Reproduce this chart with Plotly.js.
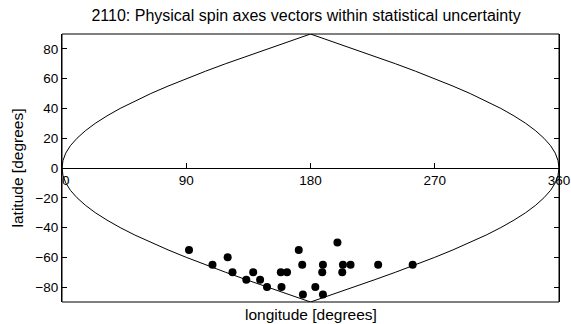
<!DOCTYPE html>
<html>
<head>
<meta charset="utf-8">
<script src="https://cdn.plot.ly/plotly-3.0.1.min.js"></script>
<style>html,body{margin:0;padding:0;background:#fff;}#chart{width:571px;height:324px;}</style>
</head>
<body>
<div id="chart"></div>
<script>
// Spin axis points (longitude, latitude) in degrees
var pointLon = [92, 109, 120, 123.5, 133.5, 138.5, 143.5, 148.5, 158.5, 163, 159, 171.5, 174, 174.5, 183.5, 189, 188.5, 189, 199.5, 203.5, 203, 209, 229, 254];
var pointLat = [-55, -65, -60, -70, -75, -70, -75, -80, -70, -70, -80, -55, -65, -85, -80, -65, -70, -85, -50, -65, -70, -65, -65, -65];

// Sky boundary (sinusoidal outline), read at 5 degree latitude steps
var boundaryLat = [90, 85, 80, 75, 70, 65, 60, 55, 50, 45, 40, 35, 30, 25, 20, 15, 10, 5, 0,
                   -5, -10, -15, -20, -25, -30, -35, -40, -45, -50, -55, -60, -65, -70, -75, -80, -85, -90];
var boundaryLonWest = [180, 164.3, 148.7, 133.4, 118.4, 103.9, 90, 76.8, 64.3, 52.7, 42.1, 32.6, 24.1, 16.9, 10.9, 6.1, 2.7, 0.7, 0,
                       0.7, 2.7, 6.1, 10.9, 16.9, 24.1, 32.6, 42.1, 52.7, 64.3, 76.8, 90, 103.9, 118.4, 133.4, 148.7, 164.3, 180];
var boundaryLonEast = [180, 195.7, 211.3, 226.6, 241.6, 256.1, 270, 283.2, 295.7, 307.3, 317.9, 327.4, 335.9, 343.1, 349.1, 353.9, 357.3, 359.3, 360,
                       359.3, 357.3, 353.9, 349.1, 343.1, 335.9, 327.4, 317.9, 307.3, 295.7, 283.2, 270, 256.1, 241.6, 226.6, 211.3, 195.7, 180];

var xTicks = [0, 90, 180, 270, 360];
var xTickLabels = ['\u00a0\u00a00', '90', '180', '270', '360'];
var yTicks = [-80, -60, -40, -20, 0, 20, 40, 60, 80];
var yTickLabels = ['\u221280', '\u221260', '\u221240', '\u221220', '0', '20', '40', '60', '80'];

var titleText = '2110: Physical spin axes vectors within statistical uncertainty';
var xTitle = 'longitude [degrees]';
var yTitle = 'latitude [degrees]';

var fam = 'Liberation Sans, Arial, sans-serif';
var tickFont = {family: fam, size: 13.5, color: '#000'};
var labelFont = {family: fam, size: 15.5, color: '#000'};
var titleFont = {family: fam, size: 16, color: '#000'};

var traces = [
  {x: boundaryLonWest, y: boundaryLat, mode: 'lines', line: {color: '#000', width: 1}, hoverinfo: 'skip', showlegend: false},
  {x: boundaryLonEast, y: boundaryLat, mode: 'lines', line: {color: '#000', width: 1}, hoverinfo: 'skip', showlegend: false},
  {x: pointLon, y: pointLat, mode: 'markers', marker: {color: '#000', size: 8}, showlegend: false}
];

var layout = {
  width: 571, height: 324,
  margin: {l: 62, r: 12, t: 34, b: 22, pad: 0},
  paper_bgcolor: '#fff', plot_bgcolor: '#fff',
  font: tickFont,
  showlegend: false,
  title: {text: titleText, font: titleFont, x: 0.536, xanchor: 'center', y: 0.953, yanchor: 'middle'},
  xaxis: {
    range: [0, 360], tickvals: xTicks, ticktext: xTickLabels,
    anchor: 'free', position: 0.5,
    showline: true, linecolor: '#000', linewidth: 1,
    ticks: 'inside', ticklen: 5, tickcolor: '#000', tickwidth: 1,
    showgrid: false, zeroline: false, tickfont: tickFont
  },
  yaxis: {
    range: [-90, 90], tickvals: yTicks, ticktext: yTickLabels,
    showline: true, linecolor: '#000', linewidth: 1, mirror: 'ticks',
    ticks: 'inside', ticklen: 5, tickcolor: '#000', tickwidth: 1,
    showgrid: false, zeroline: false, tickfont: tickFont,
    title: {text: yTitle, font: labelFont, standoff: 7}
  },
  shapes: [
    {type: 'rect', xref: 'paper', yref: 'paper', x0: 0, x1: 1, y0: 0, y1: 1, line: {color: '#000', width: 1}}
  ],
  annotations: [
    {text: xTitle, xref: 'paper', yref: 'paper', x: 0.5, y: 0, yshift: -2, xanchor: 'center', yanchor: 'top', showarrow: false, font: labelFont}
  ]
};

Plotly.newPlot('chart', traces, layout, {displayModeBar: false, staticPlot: true});
</script>
</body>
</html>
